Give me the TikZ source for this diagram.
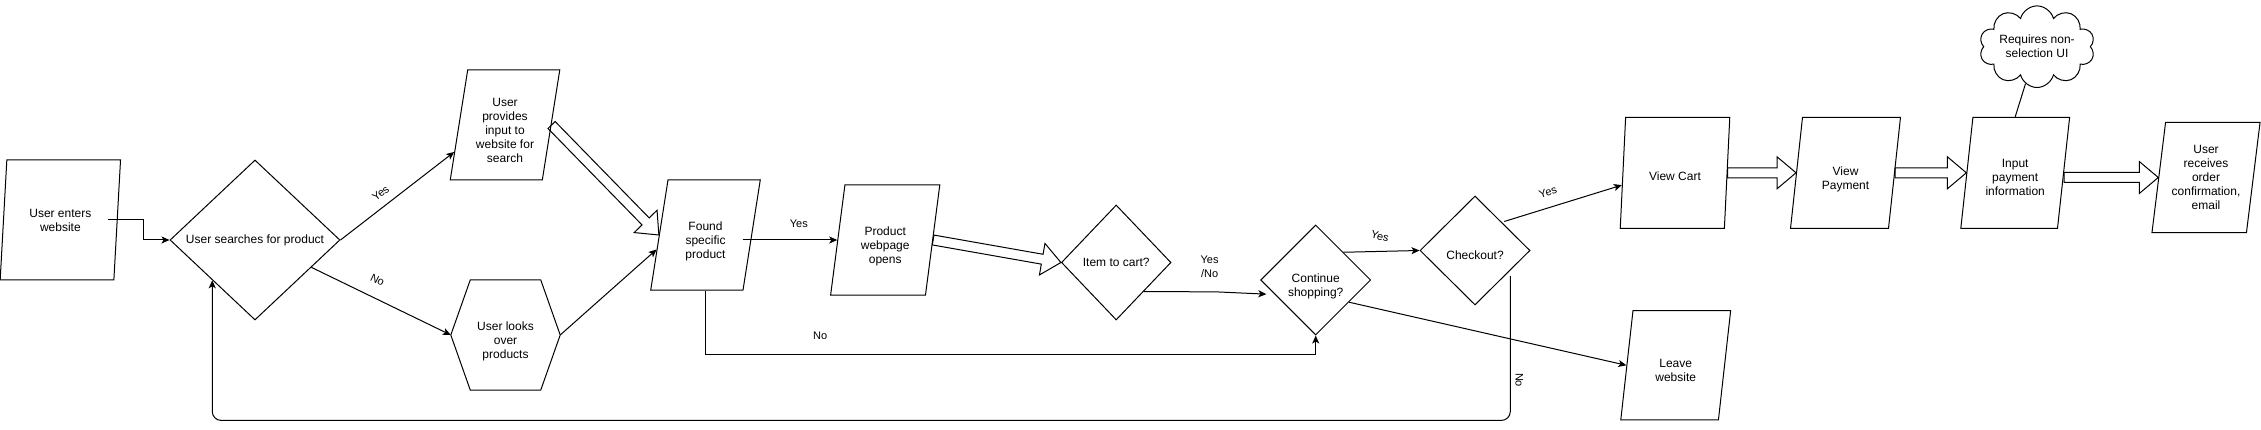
\documentclass[tikz,border=0pt]{standalone}
\usepackage{fontspec}
\setmainfont{Liberation Sans}
\usetikzlibrary{shapes.geometric,shapes.symbols,arrows.meta,calc}
\newcommand\tdn[1][17.5pt]{\rule{0pt}{#1}}
\newcommand\flexarr[2]{%
  \draw[blockarrow] ($(#1)!5pt!90:(#2)$)
    -- ($(#2)!19pt!(#1)!5pt!-90:(#1)$)
    -- ($(#2)!19pt!(#1)!16pt!-90:(#1)$)
    -- (#2)
    -- ($(#2)!19pt!(#1)!16pt!90:(#1)$)
    -- ($(#2)!19pt!(#1)!5pt!90:(#1)$)
    -- ($(#1)!5pt!-90:(#2)$) -- cycle;}
\begin{document}
\begin{tikzpicture}[x=1pt,y=-1pt,
  every node/.style={font=\fontsize{12}{14}\selectfont, align=center, inner sep=0pt},
  para/.style 2 args={draw, line width=1pt, trapezium, trapezium stretches=true,
    trapezium left angle=#1, trapezium right angle=#2},
  dia/.style={draw, line width=1pt, diamond},
  arr/.style={line width=1pt, -{Stealth[length=8pt,width=7pt,inset=2pt]}},
  lbl/.style={font=\fontsize{11}{14.3}\selectfont, inner sep=1pt},
  blockarrow/.style={draw, line width=1pt, line join=miter},
  plain/.style={line width=1pt}]
\fill[white] (0,0) rectangle (2261,430);
\useasboundingbox (0,0) rectangle (2261,430);

% shapes
\node[para={80.2}{99.8}, minimum width=120.7pt, minimum height=120pt] (enter) at (60.35,220) {User enters\\website};
\node[dia, minimum width=170pt, minimum height=160pt] (search) at (255,240) {User searches for product};
\node[para={79.7}{100.3}, minimum width=110pt, minimum height=110pt] (provides) at (505,125) {\tdn[18.6pt]User\\provides\\input to\\website for\\search};
\node[minimum width=109pt, minimum height=110pt] (looks) at (505.5,335) {\tdn[20.9pt]User looks\\over\\products};
\draw[plain] ([xshift=19.5pt]looks.north west) -- ([xshift=-19.5pt]looks.north east) -- (looks.east)
  -- ([xshift=-19.5pt]looks.south east) -- ([xshift=19.5pt]looks.south west) -- (looks.west) -- cycle;
\node[para={79.85}{100.15}, minimum width=109.7pt, minimum height=110pt] (found) at (705.5,235) {\tdn[20.9pt]Found\\specific\\product};
\node[para={80.45}{99.55}, minimum width=109.6pt, minimum height=110pt] (prod) at (885.2,240) {\tdn[20.9pt]Product\\webpage\\opens};
\node[dia, minimum width=109.6pt, minimum height=115pt] (item) at (1116.2,262.5) {Item to cart?};
\node[dia, minimum width=110pt, minimum height=110pt] (cont) at (1315.7,280) {\tdn[21.1pt]Continue\\shopping?};
\node[dia, minimum width=110pt, minimum height=109pt] (check) at (1475,250.5) {\tdn[18.2pt]Checkout?};
\node[para={79.4}{100.6}, minimum width=109.6pt, minimum height=111pt] (cart) at (1675,172.8) {\tdn[15pt]View Cart};
\node[para={80.1}{99.9}, minimum width=110.1pt, minimum height=111pt] (pay) at (1845.5,172.8) {\tdn[21.3pt]View\\Payment};
\node[para={79.6}{100.4}, minimum width=109.6pt, minimum height=111pt] (input) at (2015.2,172.8) {\tdn[18.2pt]Input\\payment\\information};
\node[para={79.8}{100.2}, minimum width=109.1pt, minimum height=110.4pt] (receive) at (2206,177.5) {User\\receives\\order\\confirmation,\\email};
\node[para={79.6}{100.4}, minimum width=110pt, minimum height=109.3pt] (leave) at (1675.7,365.3) {\tdn[17.6pt]Leave\\website};
\node[cloud, draw, line width=1pt, cloud puffs=10, aspect=1.8, minimum width=108pt, minimum height=60pt] (cloud) at (2037,46.7) {Requires non-\\selection UI};

% helper points
\coordinate (sret) at ($(search.west)!0.5!(search.south)$);
\coordinate (chk) at ([yshift=-5.7pt]$(check.east)!0.364!(check.south)$);
\coordinate (inR) at (input.right side |- receive.left side);

% connectors
\draw[arr] ([xshift=-10pt]enter.right side) -- ++(35.4,0) |- (search.west);
\draw[arr] (search.east) -- node[lbl, sloped, above=7pt, pos=0.42]{Yes} ($(provides.bottom left corner)!0.257!(provides.top left corner)$);
\draw[arr] (search) -- node[lbl, sloped, above=12pt, pos=0.42]{No} (looks.west);
\draw[arr] (looks.east) -- ($(found.bottom left corner)!0.37!(found.top left corner)$);
\flexarr{provides.right side}{found.left side}
\draw[arr] ([xshift=-9.5pt]found.right side |- prod.left side) -- node[lbl, pos=0.594, yshift=16pt]{Yes} (prod.left side);
\draw[arr] (found.center |- found.south) -- ++(0,64.3) coordinate (nb) -- node[lbl, pos=0.188, yshift=18.6pt]{No} (nb -| cont.south) -- (cont.south);
\flexarr{prod.right side}{item.west}
\draw[arr] ($(item.east)!0.5!(item.south)$) -- node[lbl, pos=0.9, yshift=25pt]{Yes\\/No} ++(73,0.4) -- ([xshift=-8pt]$(cont.west)!0.255!(cont.south)$);
\draw[arr] ($(cont.north)!0.5!(cont.east)$) -- node[lbl, pos=0.48, yshift=15pt, rotate=-15]{Yes} (check.west);
\draw[arr] ([yshift=3pt]$(check.north)!0.527!(check.east)$) -- node[lbl, sloped, above=10pt, pos=0.41]{Yes} ($(cart.bottom left corner)!0.39!(cart.top left corner)$);
\draw[arr] ($(cont.east)!0.4!(cont.south)$) -- (leave.left side);
\draw[arr, rounded corners=9pt] (chk) |- node[lbl, pos=0.36, xshift=9pt, rotate=-90]{No} (sret |- leave.south) -- (sret);
\flexarr{cart.right side}{pay.left side}
\flexarr{pay.right side}{input.left side}
\flexarr{inR}{receive.left side}
\draw[plain] (cloud) -- (input.center |- input.north);
\end{tikzpicture}
\end{document}
